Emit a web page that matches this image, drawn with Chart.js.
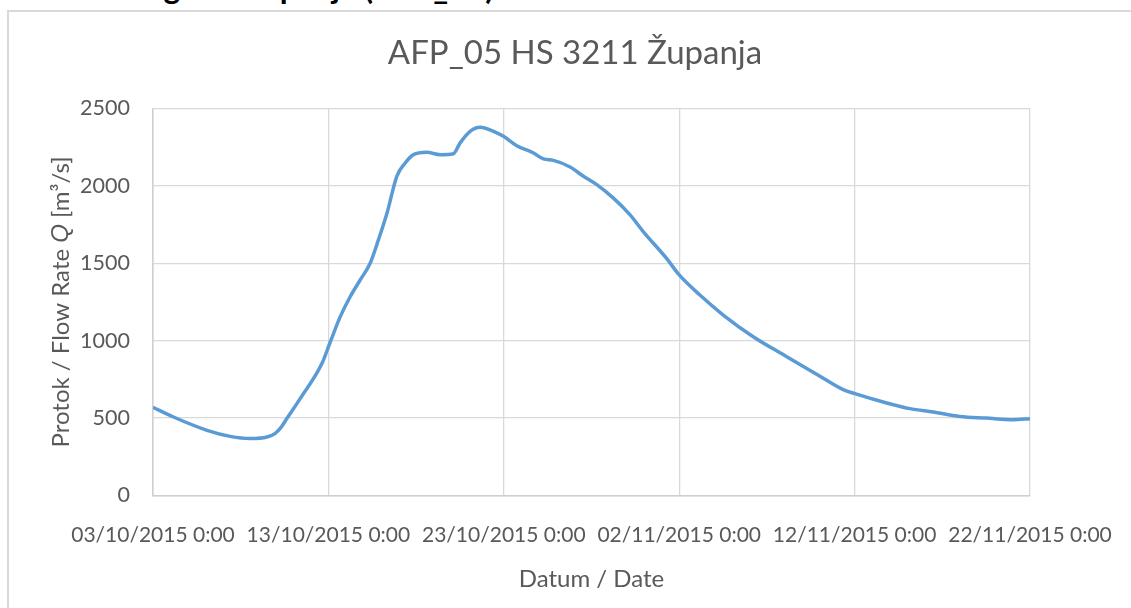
<!DOCTYPE html>
<html>
<head>
<meta charset="utf-8">
<script src="https://cdn.jsdelivr.net/npm/chart.js@4.4.1/dist/chart.umd.min.js"></script>
<style>
  html, body { margin: 0; padding: 0; background: #fff; overflow: hidden; }
  #page { position: relative; width: 1131px; height: 608px; overflow: hidden; }
  #heading {
    position: absolute; left: 0; top: -29px; width: 494px; text-align: right;
    font: bold 32px Lato, sans-serif; line-height: 32px; color: #000; white-space: nowrap;
  }
  #frame {
    position: absolute; left: 7px; top: 10px; width: 1200px; height: 700px;
    border: 2px solid #d9d9d9; box-sizing: border-box;
  }
  #wrap { position: absolute; left: 0; top: 0; width: 1131px; height: 608px; }
</style>
</head>
<body>
<div id="page">
  <div id="heading">Hidrogram Županja (AFP_05)</div>
  <div id="frame"></div>
  <div id="wrap"><canvas id="chart"></canvas></div>
</div>
<script>
// days since 03/10/2015 0:00
const flowDays = [
  0, 1.17, 3.08, 4.40, 5.54, 6.50, 6.95, 7.30, 7.63, 8.39, 9.63,
  10.1, 10.67, 11.24, 11.81, 12.38, 12.85, 13.33, 13.90, 14.38,
  14.85, 15.61, 16.37, 17.13, 17.51, 18.08, 18.65, 19.41, 19.98, 20.74,
  21.69, 22.26, 22.83, 23.78, 24.54, 25.30, 26.25, 27.20, 27.95, 29.29,
  30.0, 31.18, 32.51, 34.22, 36.13, 37.93, 39.35, 40.02, 41.63, 43.15,
  44.48, 46.0, 47.52, 49.04, 50
];
// Protok [m3/s]
const flowValues = [
  570, 507, 421, 382, 368, 378, 400, 440, 497, 626, 852,
  990, 1154, 1284, 1392, 1500, 1651, 1820, 2062, 2148,
  2202, 2217, 2202, 2208, 2278, 2353, 2379, 2353, 2321, 2260,
  2213, 2174, 2165, 2122, 2062, 2008, 1921, 1813, 1705, 1530,
  1425, 1295, 1166, 1026, 897, 777, 684, 658, 604, 561,
  539, 511, 500, 490, 496
];
const xTickLabels = [
  '03/10/2015 0:00', '13/10/2015 0:00', '23/10/2015 0:00',
  '02/11/2015 0:00', '12/11/2015 0:00', '22/11/2015 0:00'
];
const yTicks = [0, 500, 1000, 1500, 2000, 2500];
const chartTitle = 'AFP_05 HS 3211 Županja';

const TXT = '#595959';
const GRID = '#d9d9d9';
const FONT = 'Lato, sans-serif';

// title centred on the frame, y-axis title with italic Q
const extraText = {
  id: 'extraText',
  afterDraw(chart) {
    const ctx = chart.ctx;
    ctx.save();
    ctx.fillStyle = TXT;
    ctx.font = '33px ' + FONT;
    ctx.textAlign = 'center';
    ctx.textBaseline = 'alphabetic';
    ctx.fillText(chartTitle, 575, 63.5);

    const parts = [
      { t: 'Protok / Flow Rate ', f: '24px ' + FONT },
      { t: 'Q', f: 'italic 24px "Liberation Sans", ' + FONT },
      { t: ' [m³/s]', f: '24px ' + FONT },
    ];
    ctx.textBaseline = 'middle';
    ctx.textAlign = 'left';
    let total = 0;
    parts.forEach(p => { ctx.font = p.f; p.w = ctx.measureText(p.t).width; total += p.w; });
    const area = chart.chartArea;
    ctx.translate(61, (area.top + area.bottom) / 2);
    ctx.rotate(-Math.PI / 2);
    let x = -total / 2;
    parts.forEach(p => { ctx.font = p.f; ctx.fillText(p.t, x, 0); x += p.w; });
    ctx.restore();
  }
};

new Chart(document.getElementById('chart'), {
  type: 'line',
  data: {
    datasets: [{
      label: 'AFP_05',
      data: flowDays.map((d, i) => ({ x: d, y: flowValues[i] })),
      borderColor: '#5b9bd5',
      borderWidth: 3.5,
      pointRadius: 0,
      cubicInterpolationMode: 'monotone',
      fill: false,
    }],
  },
  options: {
    responsive: true,
    maintainAspectRatio: false,
    animation: false,
    layout: { padding: { top: 108.5, right: 101, bottom: 0, left: 0 } },
    plugins: {
      legend: { display: false },
      tooltip: { enabled: false },
      title: { display: false },
    },
    scales: {
      x: {
        type: 'linear',
        min: 0,
        max: 50,
        afterBuildTicks: s => { s.ticks = xTickLabels.map((_, i) => ({ value: i * 10 })); },
        afterFit: s => { s.height = 112.5; s.paddingLeft = 0; s.paddingRight = 0; },
        ticks: {
          color: TXT,
          font: { family: FONT, size: 21 },
          padding: 27,
          maxRotation: 0,
          autoSkip: false,
          callback: v => xTickLabels[v / 10],
        },
        grid: { color: GRID, lineWidth: 1.3, drawTicks: false },
        border: { color: '#cfcfcf', width: 1.5 },
        title: {
          display: true,
          text: 'Datum / Date',
          color: TXT,
          font: { family: FONT, size: 24 },
          padding: { top: 0, bottom: 14 },
        },
      },
      y: {
        min: 0,
        max: 2500,
        afterBuildTicks: s => { s.ticks = yTicks.map(v => ({ value: v })); },
        afterFit: s => { s.width = 153; s.paddingTop = 0; s.paddingBottom = 0; },
        ticks: {
          color: TXT,
          font: { family: FONT, size: 21.5 },
          padding: 23,
          callback: v => String(v),
        },
        grid: { color: GRID, lineWidth: 1.3, drawTicks: false },
        border: { color: '#cfcfcf', width: 1.5 },
      },
    },
  },
  plugins: [extraText],
});
</script>
</body>
</html>
